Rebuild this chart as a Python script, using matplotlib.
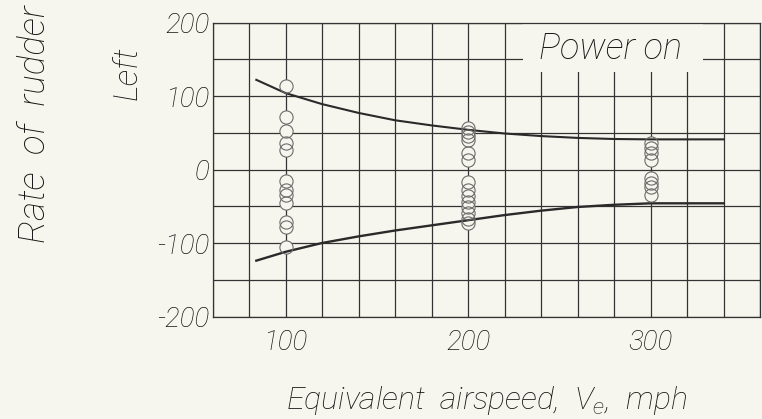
import numpy as np
import matplotlib
matplotlib.use("Agg")
import matplotlib.pyplot as plt
from matplotlib.patches import Rectangle

# rudder rate test points (deg/sec) at each airspeed column
v_100 = [114, 72, 53, 36, 26, -15, -28, -35, -45, -71, -78, -106]
v_200 = [57, 51, 45, 40, 22, 13, -17, -28, -36, -44, -51, -59, -67, -73]
v_300 = [36, 29, 22, 13, -12, -19, -24, -35]

# faired boundary curves
curve_v = [84, 100, 120, 140, 160, 180, 200, 220, 240, 260, 280, 300, 340]
upper_rate = [122, 104, 89, 77, 67, 60, 54, 49, 45.5, 43, 41.5, 41, 41]
lower_rate = [-124, -112, -100, -91, -83, -76, -69, -62, -56, -51, -48, -46, -46]

x_ticks = [100, 200, 300]
y_ticks = [-200, -100, 0, 100, 200]

paper = "#f7f6ee"
ink = "#333333"
txt = "#151515"
fam = ["Roboto", "DejaVu Sans"]

plt.rcParams["font.family"] = fam
plt.rcParams["font.style"] = "italic"
plt.rcParams["font.weight"] = "light"
plt.rcParams["axes.labelweight"] = "light"
plt.rcParams["mathtext.fontset"] = "custom"
plt.rcParams["mathtext.it"] = "Roboto:italic:light"
plt.rcParams["mathtext.rm"] = "Roboto:italic:light"


def main():
    fig = plt.figure(figsize=(7.62, 4.19), dpi=100, facecolor=paper)
    ax = fig.add_axes([0.2789, 0.2446, 0.7185, 0.7017], facecolor=paper)

    ax.set_xlim(60, 360)
    ax.set_ylim(-200, 200)
    ax.set_xticks(x_ticks)
    ax.set_xticks(np.arange(60, 361, 20), minor=True)
    ax.set_yticks(y_ticks)
    ax.set_yticks(np.arange(-200, 201, 50), minor=True)
    ax.set_yticklabels([str(t) for t in y_ticks])
    ax.tick_params(which="both", length=0, labelsize=20, colors=txt)
    ax.tick_params(axis="x", pad=9)
    ax.tick_params(axis="y", pad=2)
    ax.set_axisbelow(True)
    ax.grid(which="both", color=ink, linewidth=0.9)
    for s in ax.spines.values():
        s.set_color(ink)
        s.set_linewidth(0.9)

    # blank area behind the "Power on" note
    ax.add_patch(Rectangle((230, 132), 99, 68, facecolor=paper,
                           edgecolor="none", zorder=1))
    ax.text(278, 150, "Power on", ha="center", va="baseline",
            fontsize=26, color=txt, zorder=4)

    # points: paper-filled discs under open circles
    for v, rates in [(100, v_100), (200, v_200), (300, v_300)]:
        xs = [v] * len(rates)
        ax.plot(xs, rates, "o", ms=9.5, mfc=paper, mec="none", zorder=2)
        ax.plot(xs, rates, "o", ms=9.5, mfc="none", mec="#6b6b6b",
                mew=0.8, zorder=4)

    ax.plot(curve_v, upper_rate, color="#2a2a2a", lw=1.5, zorder=3)
    ax.plot(curve_v, lower_rate, color="#2a2a2a", lw=1.7, zorder=3)

    ax.set_xlabel("Equivalent  airspeed,  $V_e$,  mph", fontsize=23,
                  fontweight="light", color=txt, labelpad=20)

    fig.text(0.0591, 0.420, "Rate  of  rudder", rotation=90,
             rotation_mode="anchor", ha="left", va="baseline",
             fontsize=26.5, color=txt)
    fig.text(0.1798, 0.761, "Left", rotation=90, rotation_mode="anchor",
             ha="left", va="baseline", fontsize=24, color=txt)

    fig.savefig("out.png", dpi=100, facecolor=paper)


if __name__ == "__main__":
    main()
